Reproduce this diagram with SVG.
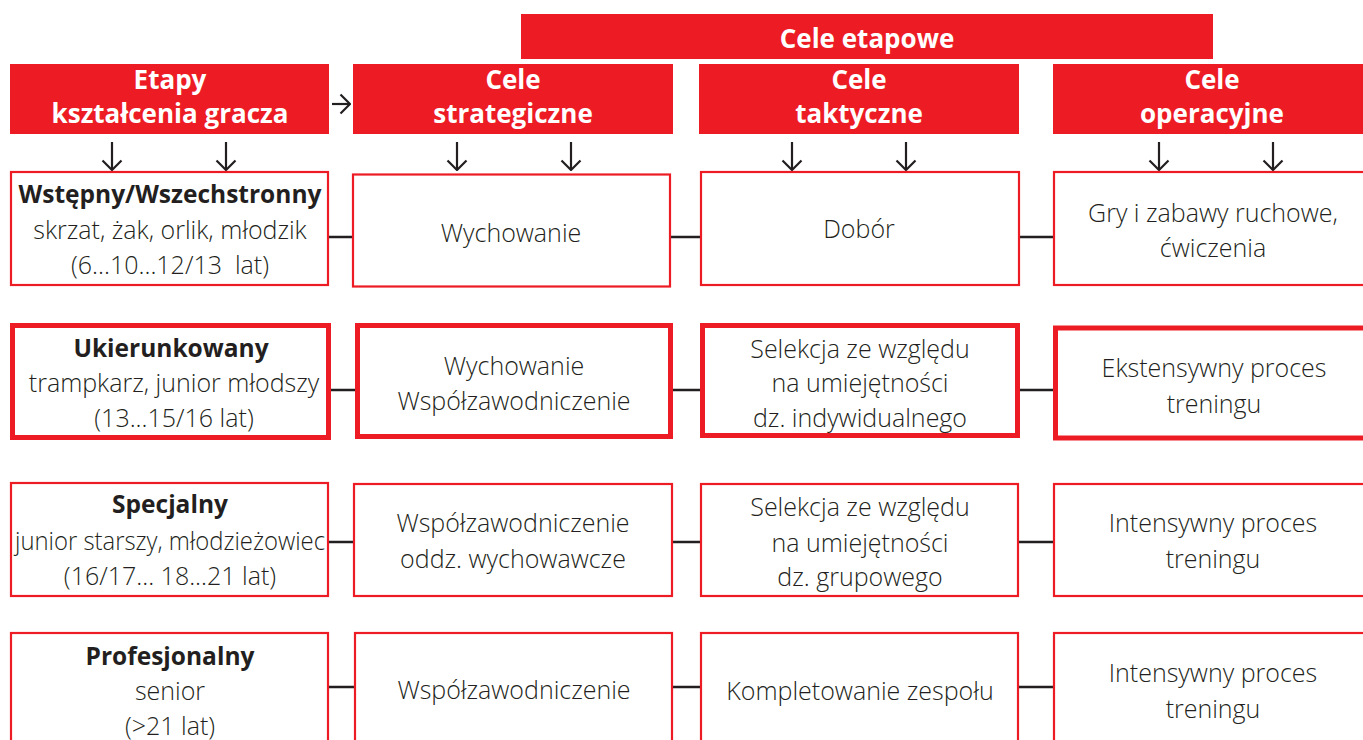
<svg xmlns="http://www.w3.org/2000/svg" width="1363" height="740" viewBox="0 0 1363 740">
<defs>
<style>
.hdr{fill:#ed1c24}
.bx{fill:#fff;stroke:#ed1c24;stroke-width:2.2}
.bxt{fill:#fff;stroke:#ed1c24;stroke-width:5}
.ht{font-family:"Open Sans","Liberation Sans",sans-serif;font-weight:700;font-size:26px;fill:#fff;text-anchor:middle}
.t{font-family:"Open Sans","Liberation Sans",sans-serif;font-weight:300;font-size:25px;fill:#231f20;text-anchor:middle}
.b{font-family:"Open Sans","Liberation Sans",sans-serif;font-weight:700;font-size:24.5px;fill:#231f20;text-anchor:middle}
.con{stroke:#231f20;stroke-width:2.5;fill:none}
.arr{stroke:#231f20;stroke-width:2.2;fill:none}
</style>
<marker id="ah" viewBox="0 0 12 22" refX="11" refY="11" markerWidth="12" markerHeight="22" markerUnits="userSpaceOnUse" orient="auto">
<path d="M1.5,1.5 L11,11 L1.5,20.5" fill="none" stroke="#231f20" stroke-width="2.2"/>
</marker>
</defs>
<rect width="1363" height="740" fill="#fff"/>

<g id="header-cele-etapowe">
<rect class="hdr" x="521" y="14" width="692" height="45"/>
<text class="ht" x="867" y="48">Cele etapowe</text>
</g>
<g id="header-etapy">
<rect class="hdr" x="10" y="64" width="319" height="70"/>
<text class="ht" x="170" y="89">Etapy</text>
<text class="ht" x="170" y="123">kształcenia gracza</text>
</g>
<g id="header-strategiczne">
<rect class="hdr" x="353" y="64" width="320" height="70"/>
<text class="ht" x="513" y="89">Cele</text>
<text class="ht" x="513" y="123">strategiczne</text>
</g>
<g id="header-taktyczne">
<rect class="hdr" x="699" y="64" width="320" height="70"/>
<text class="ht" x="859" y="89">Cele</text>
<text class="ht" x="859" y="123">taktyczne</text>
</g>
<g id="header-operacyjne">
<rect class="hdr" x="1053" y="64" width="320" height="70"/>
<text class="ht" x="1212" y="89">Cele</text>
<text class="ht" x="1212" y="123">operacyjne</text>
</g>

<g id="connectors">
<line class="arr" x1="332" y1="104" x2="350" y2="104" marker-end="url(#ah)"/>
<line class="arr" x1="112" y1="142" x2="112" y2="170" marker-end="url(#ah)"/>
<line class="arr" x1="226" y1="142" x2="226" y2="170" marker-end="url(#ah)"/>
<line class="arr" x1="457" y1="142" x2="457" y2="170" marker-end="url(#ah)"/>
<line class="arr" x1="571" y1="142" x2="571" y2="170" marker-end="url(#ah)"/>
<line class="arr" x1="792" y1="142" x2="792" y2="170" marker-end="url(#ah)"/>
<line class="arr" x1="906" y1="142" x2="906" y2="170" marker-end="url(#ah)"/>
<line class="arr" x1="1159" y1="142" x2="1159" y2="170" marker-end="url(#ah)"/>
<line class="arr" x1="1273" y1="142" x2="1273" y2="170" marker-end="url(#ah)"/>
<line class="con" x1="329" y1="237" x2="353" y2="237"/>
<line class="con" x1="670" y1="237" x2="700" y2="237"/>
<line class="con" x1="1019" y1="237" x2="1053" y2="237"/>
<line class="con" x1="331" y1="390" x2="355" y2="390"/>
<line class="con" x1="673" y1="390" x2="700" y2="390"/>
<line class="con" x1="1020" y1="390" x2="1053" y2="390"/>
<line class="con" x1="329" y1="542" x2="353" y2="542"/>
<line class="con" x1="673" y1="542" x2="700" y2="542"/>
<line class="con" x1="1019" y1="542" x2="1053" y2="542"/>
<line class="con" x1="329" y1="687" x2="354" y2="687"/>
<line class="con" x1="673" y1="687" x2="700" y2="687"/>
<line class="con" x1="1019" y1="687" x2="1053" y2="687"/>
</g>

<g id="r1-etap">
<rect class="bx" x="11" y="172" width="317" height="113"/>
<text class="b" x="170" y="203">Wstępny/Wszechstronny</text>
<text class="t" x="170" y="239">skrzat, żak, orlik, młodzik</text>
<text class="t" x="170" y="274" xml:space="preserve">(6...10...12/13  lat)</text>
</g>
<g id="r1-strat">
<rect class="bx" x="353" y="174.5" width="317" height="112"/>
<text class="t" x="511" y="242">Wychowanie</text>
</g>
<g id="r1-takt">
<rect class="bx" x="701" y="172" width="318" height="113"/>
<text class="t" x="859" y="238">Dobór</text>
</g>
<g id="r1-oper">
<rect class="bx" x="1054" y="172" width="320" height="113"/>
<text class="t" x="1213" y="222">Gry i zabawy ruchowe,</text>
<text class="t" x="1213" y="257">ćwiczenia</text>
</g>

<g id="r2-etap">
<rect class="bxt" x="12.5" y="325.5" width="316" height="112"/>
<text class="b" x="171" y="357">Ukierunkowany</text>
<text class="t" x="174" y="392">trampkarz, junior młodszy</text>
<text class="t" x="174" y="427">(13...15/16 lat)</text>
</g>
<g id="r2-strat">
<rect class="bxt" x="357.5" y="325.5" width="313" height="111"/>
<text class="t" x="514" y="375">Wychowanie</text>
<text class="t" x="514" y="410">Współzawodniczenie</text>
</g>
<g id="r2-takt">
<rect class="bxt" x="702.5" y="325.5" width="315" height="110"/>
<text class="t" x="860" y="358">Selekcja ze względu</text>
<text class="t" x="860" y="392">na umiejętności</text>
<text class="t" x="860" y="427">dz. indywidualnego</text>
</g>
<g id="r2-oper">
<rect class="bxt" x="1055.5" y="328" width="320" height="110"/>
<text class="t" x="1214" y="377">Ekstensywny proces</text>
<text class="t" x="1214" y="413">treningu</text>
</g>

<g id="r3-etap">
<rect class="bx" x="11" y="483" width="317" height="113"/>
<text class="b" x="170" y="513">Specjalny</text>
<text class="t" x="170" y="550" textLength="310" lengthAdjust="spacingAndGlyphs">junior starszy, młodzieżowiec</text>
<text class="t" x="170" y="585">(16/17... 18...21 lat)</text>
</g>
<g id="r3-strat">
<rect class="bx" x="354" y="484" width="318" height="112"/>
<text class="t" x="513" y="532">Współzawodniczenie</text>
<text class="t" x="513" y="568">oddz. wychowawcze</text>
</g>
<g id="r3-takt">
<rect class="bx" x="701" y="484" width="317" height="112"/>
<text class="t" x="860" y="516">Selekcja ze względu</text>
<text class="t" x="860" y="552">na umiejętności</text>
<text class="t" x="860" y="586">dz. grupowego</text>
</g>
<g id="r3-oper">
<rect class="bx" x="1054" y="484" width="320" height="112"/>
<text class="t" x="1213" y="532">Intensywny proces</text>
<text class="t" x="1213" y="568">treningu</text>
</g>

<g id="r4-etap">
<rect class="bx" x="11" y="633" width="317" height="120"/>
<text class="b" x="170" y="665">Profesjonalny</text>
<text class="t" x="170" y="700">senior</text>
<text class="t" x="170" y="735">(&gt;21 lat)</text>
</g>
<g id="r4-strat">
<rect class="bx" x="355" y="633" width="317" height="120"/>
<text class="t" x="514" y="699">Współzawodniczenie</text>
</g>
<g id="r4-takt">
<rect class="bx" x="701" y="633" width="317" height="120"/>
<text class="t" x="860" y="700">Kompletowanie zespołu</text>
</g>
<g id="r4-oper">
<rect class="bx" x="1054" y="633" width="320" height="120"/>
<text class="t" x="1213" y="682">Intensywny proces</text>
<text class="t" x="1213" y="718">treningu</text>
</g>
</svg>
